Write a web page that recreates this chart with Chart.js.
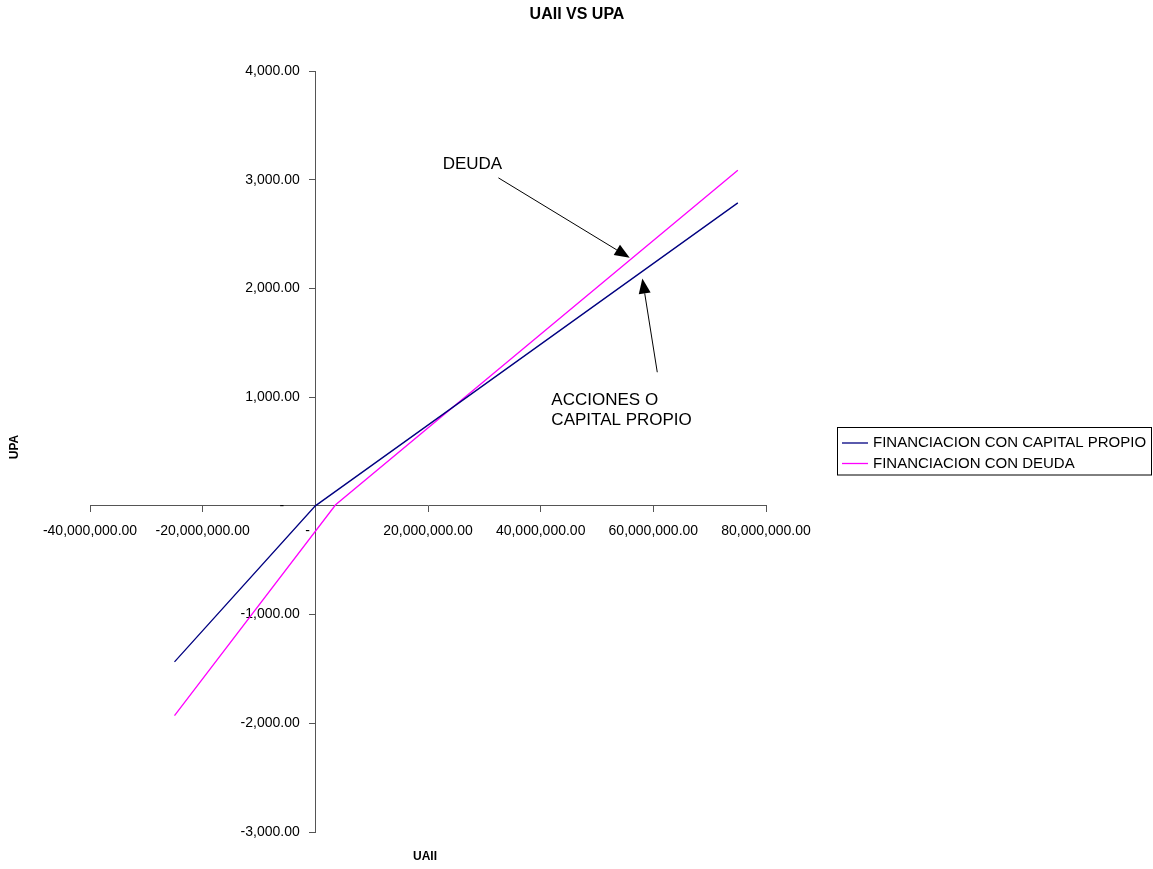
<!DOCTYPE html>
<html>
<head>
<meta charset="utf-8">
<title>UAII VS UPA</title>
<script src="https://cdn.jsdelivr.net/npm/chart.js@4.4.1/dist/chart.umd.min.js"></script>
<style>
  html, body { margin: 0; padding: 0; background: #fff; }
  #wrap { width: 1153px; height: 869px; }
</style>
</head>
<body>
<div id="wrap"><canvas id="grafico" width="1153" height="869"></canvas></div>
<script>
  // UAII (x) vs UPA (y) for the two financing plans
  let uaiiCapital = [-25000000, 0, 75000000];
  let upaCapital = [-1435, 0, 2787];
  let uaiiDeuda = [-25000000, 3600000, 75000000];
  let upaDeuda = [-1929, 10, 3087];

  let xTicks = [-40000000, -20000000, 0, 20000000, 40000000, 60000000, 80000000];
  let yTicks = [-3000, -2000, -1000, 0, 1000, 2000, 3000, 4000];

  let seriesNames = ['FINANCIACION CON CAPITAL PROPIO', 'FINANCIACION CON DEUDA'];
  let seriesColors = ['#000080', '#FF00FF'];

  const fuente = '"Liberation Sans", Arial, sans-serif';
  const hueco = '\u2007';

  function toPoints(xs, ys){
    let pts = [];
    for (let i = 0; i < xs.length; i++){
      pts.push({x: xs[i], y: ys[i]});
    }
    return pts;
  }

  function fmt(v){
    return v.toLocaleString('en-US', {minimumFractionDigits: 2, maximumFractionDigits: 2});
  }

  // the y axis sits at x = 0, so its labels carry their own right-hand gap
  function fmtX(v){
    if (v === 0) return '-' + hueco + hueco;
    return fmt(v);
  }
  function fmtY(v){
    if (v === 0) return '-' + hueco.repeat(4);
    return fmt(v) + hueco + hueco;
  }

  // arrows + callouts, placed in data units
  let notas = [
    {lines: ['DEUDA'], at: [22600000, 3140], from: [32500000, 3017], to: [55800000, 2282]},
    {lines: ['ACCIONES O', 'CAPITAL PROPIO'], at: [41900000, 969], from: [60700000, 1229], to: [58050000, 2091]}
  ];

  function flecha(ctx, x1, y1, x2, y2){
    const ang = Math.atan2(y2 - y1, x2 - x1);
    const len = 15, half = 6;
    const bx = x2 - len * Math.cos(ang), by = y2 - len * Math.sin(ang);
    ctx.beginPath();
    ctx.moveTo(x1, y1);
    ctx.lineTo(bx, by);
    ctx.stroke();
    ctx.beginPath();
    ctx.moveTo(x2, y2);
    ctx.lineTo(bx + half * Math.sin(ang), by - half * Math.cos(ang));
    ctx.lineTo(bx - half * Math.sin(ang), by + half * Math.cos(ang));
    ctx.closePath();
    ctx.fill();
  }

  const decor = {
    id: 'decor',
    afterDraw(chart){
      const ctx = chart.ctx;
      const sx = chart.scales.x, sy = chart.scales.y;
      ctx.save();
      ctx.fillStyle = '#000';
      ctx.strokeStyle = '#000';

      // title
      ctx.font = 'bold 16px ' + fuente;
      ctx.textAlign = 'center';
      ctx.textBaseline = 'middle';
      ctx.fillText('UAII VS UPA', 577, 15);

      // axis titles
      ctx.font = 'bold 12px ' + fuente;
      ctx.fillText('UAII', 425, 857);
      ctx.save();
      ctx.translate(15, 447);
      ctx.rotate(-Math.PI / 2);
      ctx.fillText('UPA', 0, 0);
      ctx.restore();

      // callouts
      ctx.font = '17px ' + fuente;
      ctx.textAlign = 'left';
      ctx.lineWidth = 1;
      notas.forEach(function (n){
        const tx = sx.getPixelForValue(n.at[0]);
        const ty = sy.getPixelForValue(n.at[1]);
        n.lines.forEach(function (t, i){
          ctx.fillText(t, tx, ty + i * 19.5);
        });
        flecha(ctx,
          sx.getPixelForValue(n.from[0]), sy.getPixelForValue(n.from[1]),
          sx.getPixelForValue(n.to[0]), sy.getPixelForValue(n.to[1]));
      });

      // legend box
      ctx.strokeStyle = '#000';
      ctx.strokeRect(837.5, 427.5, 314, 47.5);
      ctx.font = '15px ' + fuente;
      ctx.lineWidth = 1.3;
      for (let i = 0; i < seriesNames.length; i++){
        const ly = 443 + i * 20.5;
        ctx.strokeStyle = seriesColors[i];
        ctx.beginPath();
        ctx.moveTo(842, ly);
        ctx.lineTo(868, ly);
        ctx.stroke();
        ctx.fillText(seriesNames[i], 873, ly);
      }
      ctx.restore();
    }
  };

  const ctx = document.getElementById('grafico');
  new Chart(ctx, {
    type: 'scatter',
    data: {
      datasets: [{
        label: seriesNames[0],
        data: toPoints(uaiiCapital, upaCapital),
        borderColor: seriesColors[0],
        backgroundColor: seriesColors[0],
        borderWidth: 1.3,
        showLine: true,
        pointRadius: 0,
        tension: 0
      }, {
        label: seriesNames[1],
        data: toPoints(uaiiDeuda, upaDeuda),
        borderColor: seriesColors[1],
        backgroundColor: seriesColors[1],
        borderWidth: 1.3,
        showLine: true,
        pointRadius: 0,
        tension: 0
      }]
    },
    options: {
      responsive: false,
      animation: false,
      devicePixelRatio: 1,
      layout: {
        padding: {left: 90, right: 387, top: 71, bottom: 37}
      },
      plugins: {
        legend: {display: false},
        title: {display: false},
        tooltip: {enabled: false}
      },
      scales: {
        x: {
          type: 'linear',
          position: {y: 0},
          min: -40000000,
          max: 80000000,
          afterBuildTicks: function (scale){
            scale.ticks = xTicks.map(function (v){ return {value: v}; });
          },
          grid: {drawOnChartArea: false, drawTicks: true, tickLength: 6, color: '#555'},
          border: {color: '#555', width: 1},
          ticks: {
            color: '#000',
            font: {family: fuente, size: 14},
            padding: 11,
            maxRotation: 0,
            autoSkip: false,
            callback: function (v){ return fmtX(v); }
          }
        },
        y: {
          type: 'linear',
          position: {x: 0},
          min: -3000,
          max: 4000,
          afterBuildTicks: function (scale){
            scale.ticks = yTicks.map(function (v){ return {value: v}; });
          },
          grid: {drawOnChartArea: false, drawTicks: true, tickLength: 6, color: '#555'},
          border: {color: '#555', width: 1},
          ticks: {
            color: '#000',
            font: {family: fuente, size: 14},
            autoSkip: false,
            callback: function (v){ return fmtY(v); }
          }
        }
      }
    },
    plugins: [decor]
  });
</script>
</body>
</html>
